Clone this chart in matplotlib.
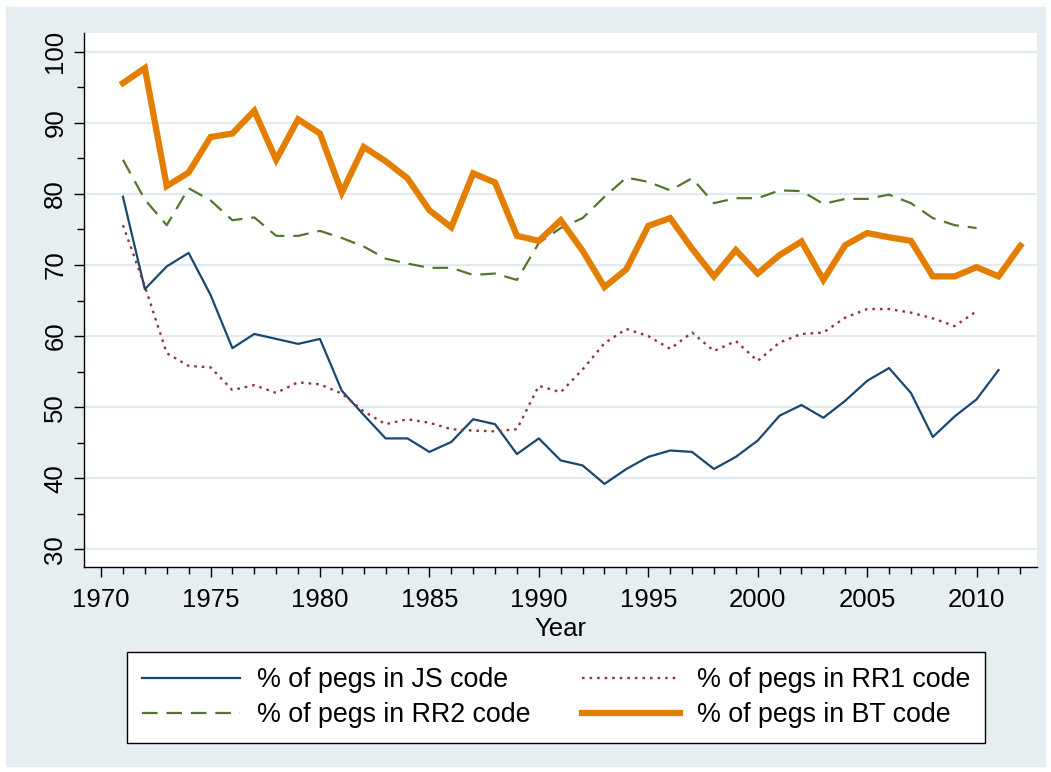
import matplotlib
matplotlib.use('Agg')
import matplotlib.pyplot as plt
import numpy as np
from matplotlib.patches import Rectangle
from matplotlib.ticker import MultipleLocator

plt.rcParams['font.family'] = ['Liberation Sans', 'DejaVu Sans']
plt.rcParams['font.size'] = 18.5

# data
years_bt = np.arange(1971, 2013)
bt = [95.6, 97.7, 81.1, 83.0, 88.0, 88.5, 91.7, 84.8, 90.5, 88.5,
      80.2, 86.6, 84.6, 82.2, 77.7, 75.3, 82.9, 81.6, 74.1, 73.4,
      76.3, 72.0, 66.9, 69.4, 75.5, 76.6, 72.3, 68.4, 72.1, 68.8,
      71.4, 73.3, 67.9, 72.8, 74.5, 73.9, 73.4, 68.4, 68.4, 69.7,
      68.4, 72.7]

years_js = np.arange(1971, 2012)
js = [79.6, 66.6, 69.8, 71.7, 65.8, 58.3, 60.3, 59.6, 58.9, 59.6,
      52.3, 48.9, 45.6, 45.6, 43.7, 45.1, 48.3, 47.6, 43.4, 45.6,
      42.5, 41.8, 39.2, 41.3, 43.0, 43.9, 43.7, 41.3, 43.0, 45.3,
      48.8, 50.3, 48.5, 50.9, 53.7, 55.5, 52.0, 45.8, 48.7, 51.1,
      55.2]

years_rr = np.arange(1971, 2011)
rr1 = [75.6, 67.0, 57.6, 55.8, 55.6, 52.4, 53.1, 52.0, 53.5, 53.2,
       51.9, 49.4, 47.6, 48.3, 47.8, 46.9, 46.7, 46.6, 46.9, 53.0,
       52.1, 55.3, 59.0, 61.0, 60.0, 58.2, 60.5, 57.9, 59.3, 56.5,
       59.1, 60.3, 60.5, 62.6, 63.8, 63.8, 63.3, 62.5, 61.4, 63.5]
rr2 = [84.8, 79.2, 75.6, 80.8, 79.1, 76.3, 76.7, 74.1, 74.1, 74.8,
       73.8, 72.6, 70.9, 70.2, 69.6, 69.6, 68.6, 68.8, 67.9, 73.1,
       75.2, 76.6, 79.6, 82.3, 81.7, 80.5, 82.2, 78.7, 79.4, 79.4,
       80.5, 80.4, 78.6, 79.3, 79.3, 79.9, 78.7, 76.6, 75.6, 75.2]

bg = '#e7eef1'

fig = plt.figure(figsize=(10.51, 7.72), dpi=100)
fig.patches.append(Rectangle((6 / 1051, 6 / 772), 1039 / 1051, 759 / 772,
                             transform=fig.transFigure, color=bg, zorder=-10))

ax = fig.add_axes([84 / 1051, 1 - 566.7 / 772, 953 / 1051, 533.4 / 772])
ax.set_facecolor('white')

l_js, = ax.plot(years_js, js, color='#1a476f', lw=1.6, label='% of pegs in JS code')
l_rr1, = ax.plot(years_rr, rr1, color='#90353b', lw=1.7, linestyle=(0, (1.1, 2.1)),
                 label='% of pegs in RR1 code')
l_rr2, = ax.plot(years_rr, rr2, color='#55752f', lw=1.6, linestyle=(0, (7, 4)),
                 label='% of pegs in RR2 code')
l_bt, = ax.plot(years_bt, bt, color='#e37e00', lw=4.5, solid_joinstyle='miter',
                label='% of pegs in BT code')

ax.set_xlim(1969.22, 2012.76)
ax.set_ylim(27.55, 102.6)
ax.set_xticks(np.arange(1970, 2011, 5))
ax.xaxis.set_minor_locator(MultipleLocator(1))
ax.set_yticks(np.arange(30, 101, 10))
ax.yaxis.set_minor_locator(MultipleLocator(5))
ax.tick_params(axis='y', labelrotation=90)
for lab in ax.get_yticklabels():
    lab.set_va('center')
ax.tick_params(which='major', length=7, width=1, pad=5)
ax.tick_params(axis='x', which='major', pad=8)
ax.tick_params(which='minor', length=5, width=1)
ax.grid(axis='y', which='major', color='#e3ebee', lw=1.6)
ax.set_axisbelow(True)
for s in ['top', 'right']:
    ax.spines[s].set_visible(False)
for s in ['left', 'bottom']:
    ax.spines[s].set_linewidth(1)
ax.set_xlabel('Year', labelpad=4)

# column-wise fill: JS / RR2 in column 1, RR1 / BT in column 2
hs = [l_js, l_rr2, l_rr1, l_bt]
leg = ax.legend(hs, [h.get_label() for h in hs], ncol=2, loc='center',
                bbox_to_anchor=(556 / 1051, 1 - 697.5 / 772),
                bbox_transform=fig.transFigure, frameon=True, fancybox=False,
                edgecolor='black', framealpha=1, fontsize=19.3, handlelength=3.66,
                handletextpad=0.63, columnspacing=1.9, borderpad=0.55,
                labelspacing=0.34)
leg.get_frame().set_linewidth(1)

fig.savefig('out.png', dpi=100, facecolor='white')
